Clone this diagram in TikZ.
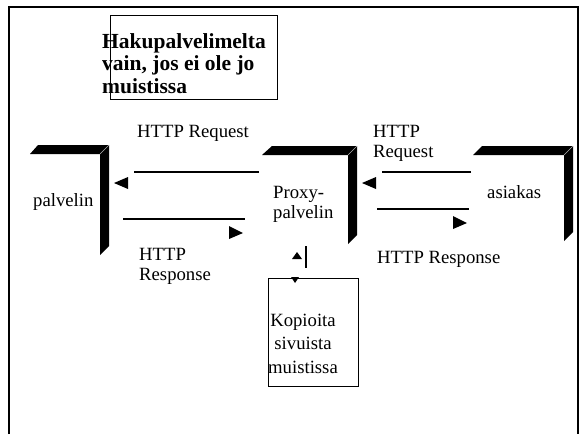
\documentclass[tikz,border=0pt]{standalone}
\usepackage{fontspec}
\setmainfont{Liberation Serif}
\begin{document}
\begin{tikzpicture}[x=1pt,y=-1pt,
  lbl/.style={inner sep=0pt, font=\fontsize{18.7}{20}\selectfont, align=left, anchor=base west},
  ttl/.style={inner sep=0pt, font=\bfseries\fontsize{21.5}{22.5}\selectfont, align=left, anchor=base west},
  frameline/.style={line width=1.4pt},
  conn/.style={line width=1.3pt},
  headtri/.style={fill=black},
  shelf/.style={fill=black},
  bevel/.style={draw=gray!60, line width=0.6pt}]
\useasboundingbox (0,0) rectangle (584,434);
% outer frame
\draw[frameline] (9,434) -- (9,7) -- (578,7) -- (578,434);
% title box
\node[draw, line width=1.3pt, minimum width=167pt, minimum height=84pt, anchor=north west, inner sep=0pt] (tbox) at (110,15) {};
\node[ttl] (title) at (102,93) {Hakupalvelimelta\\vain, jos ei ole jo\\muistissa};
% shelf shapes
\fill[shelf] (30,154) -- (38,145) -- (109,145) -- (109,246) -- (100,255) -- (100,154) -- cycle;
\draw[bevel] (109,145) -- (100,154);
\fill[shelf] (262,155) -- (272,146) -- (357,146) -- (357,235) -- (348,244) -- (348,155) -- cycle;
\draw[bevel] (357,146) -- (348,155);
\fill[shelf] (473,155) -- (482,146) -- (573,146) -- (573,232) -- (564,241) -- (564,155) -- cycle;
\draw[bevel] (573,146) -- (564,155);
% labels
\node[lbl] (palvelin) at (33,206) {palvelin};
\node[lbl] (proxy) at (273,218) {Proxy-\\palvelin};
\node[lbl] (asiakas) at (487,198) {asiakas};
\node[lbl] (req1) at (137,137) {HTTP Request};
\node[lbl] (req2) at (373,157) {HTTP\\Request};
\node[lbl] (resp1) at (139,280) {HTTP\\Response};
\node[lbl] (resp2) at (377,263) {HTTP Response};
% memory box
\node[draw, line width=1.3pt, minimum width=90pt, minimum height=108pt, anchor=north west, inner sep=0pt] (mem) at (268,278) {};
\node[inner sep=0pt, font=\fontsize{18.7}{23.5}\selectfont, align=center, anchor=base] (memtxt) at (303,373) {Kopioita\\sivuista\\muistissa};
% connector end points
\coordinate (a1) at (259,172); \coordinate (b1) at (134,172);
\coordinate (a2) at (123,219); \coordinate (b2) at (245,219);
\coordinate (a3) at (471,172); \coordinate (b3) at (382,172);
\coordinate (a4) at (377,209); \coordinate (b4) at (469,209);
\coordinate (v1) at (306,246); \coordinate (v2) at (306,268);
\draw[conn] (a1) -- (b1);
\draw[conn] (a2) -- (b2);
\draw[conn] (a3) -- (b3);
\draw[conn] (a4) -- (b4);
\draw[conn] (v1) -- (v2);
% arrow heads
\fill[headtri] (114,183) -- (128,177) -- (128,189) -- cycle;
\fill[headtri] (243,233) -- (229,226) -- (229,239) -- cycle;
\fill[headtri] (362,183) -- (376,177) -- (376,189) -- cycle;
\fill[headtri] (467,223) -- (453,216) -- (453,229) -- cycle;
\fill[headtri] (297,252) -- (292,259) -- (302,259) -- cycle;
\fill[headtri] (295,283) -- (291,277) -- (299,277) -- cycle;
\end{tikzpicture}
\end{document}
